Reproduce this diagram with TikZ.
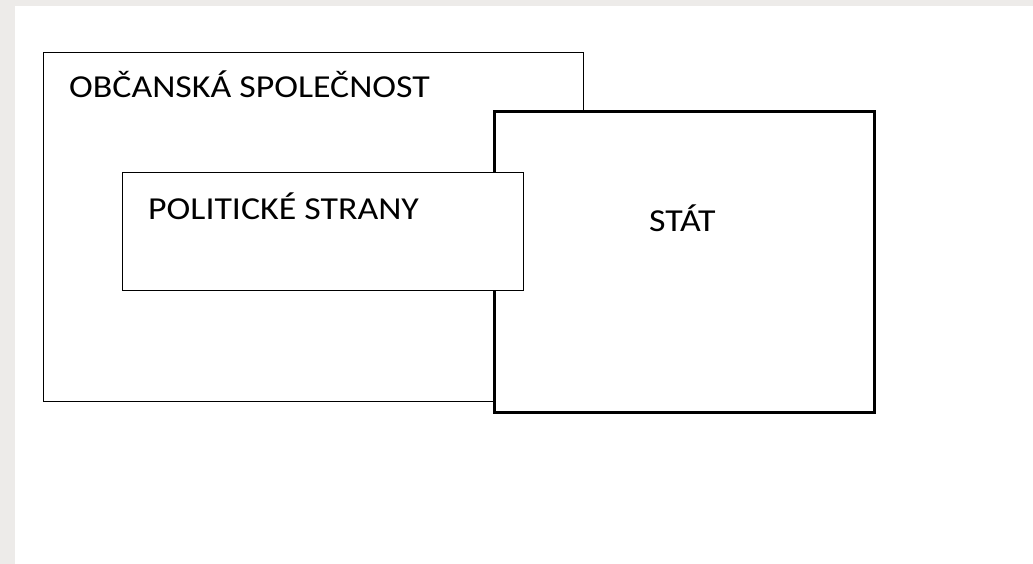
\documentclass[tikz,border=0pt]{standalone}
\usepackage{fontspec}
\setmainfont{Carlito}[FakeStretch=1.12]
\definecolor{sfondo}{RGB}{237,235,233}
\tikzset{
    scatola/.style={draw, fill=white, line width=1.2pt, anchor=north west, inner sep=0pt},
    etichetta/.style={anchor=base west, inner sep=0pt, font=\fontsize{32}{36}\selectfont}
}
\begin{document}
\begin{tikzpicture}[x=1pt, y=-1pt]
    % Sfondo della pagina
    \fill[sfondo] (0,0) rectangle (1033,564);
    \fill[white] (15,6) rectangle (1033,564);
    \useasboundingbox (0,0) rectangle (1033,564);

    % Le tre scatole, dalla piu' bassa alla piu' alta
    \node[scatola, minimum width=540pt, minimum height=349pt] (spolecnost) at (43,52) {};
    \node[scatola, line width=3pt, minimum width=380pt, minimum height=301pt] (stat) at (493,110) {};
    \node[scatola, minimum width=401pt, minimum height=118pt] (strany) at (122,172) {};

    % Le etichette
    \node[etichetta] (lspolecnost) at (69,98) {OBČANSKÁ SPOLEČNOST};
    \node[etichetta] (lstrany) at (148,219) {POLITICKÉ STRANY};
    \node[etichetta] (lstat) at (649,232) {STÁT};
\end{tikzpicture}
\end{document}
